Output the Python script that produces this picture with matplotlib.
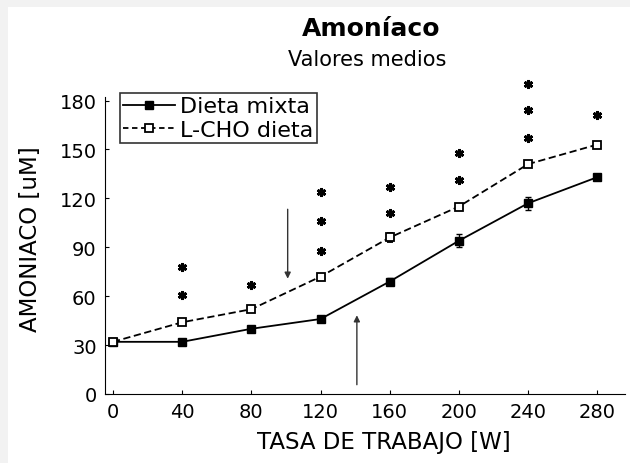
import matplotlib
matplotlib.use("Agg")
import matplotlib.pyplot as plt
from matplotlib.patches import Rectangle
from matplotlib.lines import Line2D

# workload [W]
carga = [0, 40, 80, 120, 160, 200, 240, 280]
mixta = [32, 32, 40, 46, 69, 94, 117, 133]
mixta_err = [1, 1, 1, 1, 2, 4, 4, 1]
lcho = [32, 44, 52, 72, 96, 115, 141, 153]
lcho_err = [1, 1, 1, 1, 3, 1, 2, 1]

# significance asterisks (x, y)
star_x = [40, 40, 80, 120, 120, 120, 160, 160, 200, 200, 240, 240, 240, 280]
star_y = [61, 78, 67, 88, 106, 124, 111, 127, 131, 148, 157, 174, 190, 171]

fig = plt.figure(figsize=(6.3, 4.64), dpi=100)
fig.patch.set_facecolor("#f2f2f2")
fig.patches.append(Rectangle((8 / 630, 0), 1, 1 - 8 / 464, transform=fig.transFigure,
                             facecolor="white", edgecolor="none", zorder=-10))

ax = fig.add_axes([105 / 630, 69 / 464, 520 / 630, 300 / 464])
ax.set_facecolor("none")
ax.set_zorder(1)

ax.errorbar(carga, mixta, yerr=mixta_err, fmt="-s", color="black", lw=1.3, ms=6,
            mfc="black", mec="black", capsize=2, elinewidth=1, zorder=3)
ax.errorbar(carga, lcho, yerr=lcho_err, fmt="--s", color="black", lw=1.3, ms=6,
            mfc="white", mec="black", mew=1.3, capsize=2, elinewidth=1, dashes=(4, 2),
            zorder=4)
ax.plot(star_x, star_y, ls="none", marker=(6, 2, 0), ms=6.5, mew=2, color="black",
        clip_on=False)

# arrows
ax.annotate("", xy=(101, 69), xytext=(101, 115),
            arrowprops=dict(arrowstyle="-|>", color="#333333", lw=1, mutation_scale=9))
ax.annotate("", xy=(141, 50), xytext=(141, 4),
            arrowprops=dict(arrowstyle="-|>", color="#333333", lw=1, mutation_scale=9))

ax.set_xlim(-4.6, 296)
ax.set_ylim(0, 184)
ax.set_xticks(carga)
ax.set_yticks([0, 30, 60, 90, 120, 150, 180])
ax.tick_params(direction="in", length=3, labelsize=14, pad=6)
for s in ["top", "right"]:
    ax.spines[s].set_visible(False)
ax.spines["left"].set_bounds(0, 182)

ax.set_xlabel("TASA DE TRABAJO [W]", fontsize=16.5)
ax.set_ylabel("AMONIACO [uM]", fontsize=16.5)
ax.xaxis.set_label_coords(0.537, -0.12)
ax.yaxis.set_label_coords(-0.121, 0.52)

handles = [
    Line2D([], [], color="black", lw=1.3, marker="s", ms=6, mfc="black"),
    Line2D([], [], color="black", lw=1.3, ls="--", dashes=(3, 2), marker="s", ms=6,
           mfc="white", mew=1.3),
]
leg = ax.legend(handles, ["Dieta mixta", "L-CHO dieta"], loc="upper left",
                bbox_to_anchor=(0.029, 1.003), fontsize=16, frameon=True,
                fancybox=False, edgecolor="black", handlelength=2.3, handletextpad=0.25,
                borderpad=0.15, labelspacing=0.15, borderaxespad=0)
leg.get_frame().set_linewidth(1.2)

fig.text(0.589, 0.9375, "Amoníaco", fontsize=18, fontweight="bold", ha="center",
         va="center")
fig.text(0.583, 0.871, "Valores medios", fontsize=15, ha="center", va="center")

fig.savefig("out.png", dpi=100, facecolor=fig.get_facecolor())
